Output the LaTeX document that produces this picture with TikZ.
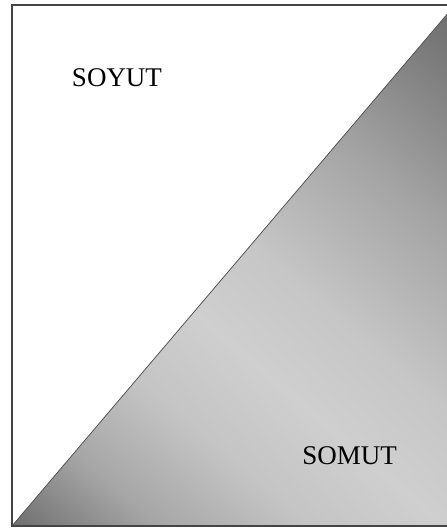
\documentclass[tikz,border=0pt]{standalone}
\usepackage{fontspec}
\setmainfont{Liberation Serif}
\definecolor{gdark}{HTML}{6E6E6E}
\definecolor{gmida}{HTML}{A6A6A6}
\definecolor{gmidb}{HTML}{C4C4C4}
\definecolor{glight}{HTML}{CFCFCF}
\definecolor{gmidc}{HTML}{C6C6C6}
\definecolor{gmidd}{HTML}{A4A4A4}
\definecolor{gdarkb}{HTML}{6A6A6A}
\definecolor{frame}{HTML}{444444}
\definecolor{edge}{HTML}{555555}
\pgfdeclarehorizontalshading{diagshade}{100bp}{color(0bp)=(gdark); color(25bp)=(gdark); color(32bp)=(gmida); color(39bp)=(gmidb); color(45.5bp)=(glight); color(52bp)=(gmidc); color(62bp)=(gmidd); color(75bp)=(gdarkb); color(100bp)=(gdarkb)}
\tikzset{
  label text/.style={font=\fontsize{27}{32}\selectfont, text=black, inner sep=0pt, anchor=base},
  frame line/.style={draw=frame, line width=1.6pt},
  diag line/.style={draw=edge, line width=0.8pt}
}
\begin{document}
\begin{tikzpicture}[x=1pt,y=1pt]
\useasboundingbox (0,0) rectangle (447,528);
\coordinate (bl) at (12,2);
\coordinate (tr) at (455,523);
\coordinate (br) at (455,2);
\begin{scope}
  \clip (bl) -- (tr) -- (br) -- cycle;
  \begin{scope}[transform canvas={shift={(12,2)}, rotate=49.62}]
    \shade[shading=diagshade] (0,-700) rectangle (683.9,700);
  \end{scope}
\end{scope}
\draw[diag line] (bl) -- (tr);
\draw[frame line] (bl) rectangle (tr);
\node[label text] (soyut) at (117,441) {SOYUT};
\node[label text] (somut) at (349.7,63) {SOMUT};
\end{tikzpicture}
\end{document}
